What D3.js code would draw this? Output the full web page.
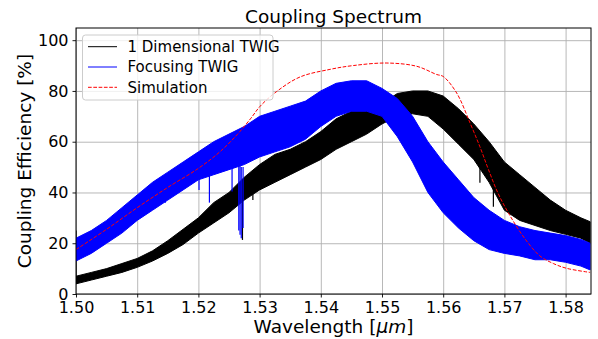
<!DOCTYPE html>
<html>
<head>
<meta charset="utf-8">
<script src="https://cdn.jsdelivr.net/npm/d3@7"></script>
<style>
  body { margin: 0; background: #fff; }
  svg { display: block; font-family: 'DejaVu Sans', sans-serif; }
</style>
</head>
<body>
<svg id="chart" width="598" height="339"></svg>
<script>
const wavelength = [1.5000, 1.5025, 1.5050, 1.5075, 1.5100, 1.5125, 1.5150, 1.5175, 1.5200, 1.5225,
    1.5250, 1.5275, 1.5300, 1.5325, 1.5350, 1.5375, 1.5400, 1.5425, 1.5450, 1.5475,
    1.5500, 1.5525, 1.5550, 1.5575, 1.5600, 1.5625, 1.5650, 1.5675, 1.5700, 1.5725,
    1.5750, 1.5775, 1.5800, 1.5825, 1.5840];
const oneDimLow = [4, 5.5, 7, 8.5, 10.5, 13, 16, 19.5, 24, 28,
    32, 37, 41, 44, 47, 50, 53, 57, 60, 63,
    67, 70, 71, 70, 65, 59, 53, 44, 33, 29,
    27, 25, 23.5, 22, 20];
const oneDimHigh = [7, 8.5, 10, 12, 14, 17, 21, 25.5, 30, 36,
    40, 46, 51, 55, 57, 60, 64, 69, 72, 75,
    75, 79, 80, 80, 78, 73, 67, 60, 52, 47,
    42, 37, 33, 30, 28.5];
const focusingLow = [13, 16, 20, 24, 29, 33, 37, 41, 45, 47,
    49, 51, 54, 56, 58, 61, 66, 70, 72, 72,
    70, 62, 52, 40, 32, 26, 21, 17.5, 16, 15,
    13.5, 13.5, 12.5, 11, 9.5];
const focusingHigh = [22, 25, 29, 34, 39, 44, 48, 52, 56, 60,
    63, 66, 70, 72, 74, 76, 80, 83, 84, 84,
    81, 77, 70, 60, 52, 45, 38, 33, 29, 26.5,
    25, 24, 23, 21.5, 20];

// Single sharp excursions: [wavelength, from, to]
const oneDimSpikes = [[1.5000, 4, 25], [1.5272, 37, 21.3], [1.5289, 41, 37], [1.5660, 55, 43.8], [1.5682, 42, 34.4]];
const focusingSpikes = [[1.5201, 46, 41], [1.5218, 47, 36], [1.5255, 50, 40.4], [1.5146, 38, 36],
    [1.5266, 52, 25], [1.5268, 52, 23.3], [1.5270, 50, 22], [1.5273, 50, 26]];

// Simulation curve
const simWavelength = [1.5000, 1.5050, 1.5100, 1.5150, 1.5200, 1.5235, 1.5263, 1.5285, 1.5301, 1.5328,
    1.5366, 1.5415, 1.5453, 1.5508, 1.5557, 1.5589, 1.5600, 1.5622, 1.5644, 1.5660,
    1.5674, 1.5690, 1.5710, 1.5735, 1.5758, 1.5780, 1.5802, 1.5840];
const simEfficiency = [17.5, 25.5, 34, 42, 49.5, 56, 62.7, 69, 74, 79.8,
    85.5, 88.5, 90, 91, 89.7, 86.5, 85.7, 79.2, 67.3, 58,
    49, 39.5, 30.5, 21.3, 15, 12, 10.1, 8.5];

const xTicks = [1.50, 1.51, 1.52, 1.53, 1.54, 1.55, 1.56, 1.57, 1.58];
const yTicks = [0, 20, 40, 60, 80, 100];
const seriesNames = ['1 Dimensional TWIG', 'Focusing TWIG', 'Simulation'];

const width = 598, height = 339;
const margin = { top: 28, right: 7, bottom: 45, left: 76 };
const innerWidth = width - margin.left - margin.right;
const innerHeight = height - margin.top - margin.bottom;

const svg = d3.select('#chart');
const g = svg.append('g').attr('transform', `translate(${margin.left},${margin.top})`);

const x = d3.scaleLinear().domain([1.5, 1.58415]).range([0, innerWidth]);
const y = d3.scaleLinear().domain([0, 104.8]).range([innerHeight, 0]);

g.append('clipPath').attr('id', 'plot-clip')
    .append('rect').attr('width', innerWidth).attr('height', innerHeight);

// Grid
g.append('g')
    .attr('transform', `translate(0,${innerHeight})`)
    .call(d3.axisBottom(x).tickValues(xTicks).tickSize(-innerHeight).tickFormat(''))
    .call(s => s.select('.domain').remove())
    .selectAll('line').attr('stroke', '#b0b0b0').attr('stroke-width', 0.9);
g.append('g')
    .call(d3.axisLeft(y).tickValues(yTicks).tickSize(-innerWidth).tickFormat(''))
    .call(s => s.select('.domain').remove())
    .selectAll('line').attr('stroke', '#b0b0b0').attr('stroke-width', 0.9);

const plot = g.append('g').attr('clip-path', 'url(#plot-clip)');

function drawBand(low, high, spikes, color) {
    const rows = wavelength.map((w, i) => ({ w, lo: low[i], hi: high[i] }));
    const band = d3.area()
        .x(d => x(d.w))
        .y0(d => y(d.lo))
        .y1(d => y(d.hi));
    plot.append('path')
        .datum(rows)
        .attr('fill', color)
        .attr('stroke', color)
        .attr('stroke-width', 1)
        .attr('d', band);
    plot.selectAll(null)
        .data(spikes)
        .join('line')
        .attr('x1', d => x(d[0]))
        .attr('x2', d => x(d[0]))
        .attr('y1', d => y(d[1]))
        .attr('y2', d => y(d[2]))
        .attr('stroke', color)
        .attr('stroke-width', 1.2);
}

drawBand(oneDimLow, oneDimHigh, oneDimSpikes, '#000000');
drawBand(focusingLow, focusingHigh, focusingSpikes, '#0000ff');

const simLine = d3.line()
    .x((d, i) => x(simWavelength[i]))
    .y(d => y(d))
    .curve(d3.curveCatmullRom.alpha(0.5));
plot.append('path')
    .datum(simEfficiency)
    .attr('fill', 'none')
    .attr('stroke', '#ff0000')
    .attr('stroke-width', 1)
    .attr('stroke-dasharray', '3.7,1.6')
    .attr('d', simLine);

// Axes
const xAxis = g.append('g')
    .attr('transform', `translate(0,${innerHeight})`)
    .call(d3.axisBottom(x).tickValues(xTicks).tickFormat(d3.format('.2f')).tickSize(3.5).tickPadding(4));
const yAxis = g.append('g')
    .call(d3.axisLeft(y).tickValues(yTicks).tickSize(3.5).tickPadding(4));
[xAxis, yAxis].forEach(a => {
    a.select('.domain').remove();
    a.selectAll('line').attr('stroke', '#000').attr('stroke-width', 0.9);
    a.selectAll('text').attr('fill', '#000').attr('font-size', '16px')
        .attr('font-family', "'DejaVu Sans', sans-serif");
});

g.append('rect')
    .attr('width', innerWidth).attr('height', innerHeight)
    .attr('fill', 'none').attr('stroke', '#000').attr('stroke-width', 1);

// Labels
svg.append('text')
    .attr('x', margin.left + innerWidth / 2).attr('y', 22.5)
    .attr('text-anchor', 'middle').attr('font-size', '18.5px')
    .text('Coupling Spectrum');

const xLabel = svg.append('text')
    .attr('x', margin.left + innerWidth / 2).attr('y', 333)
    .attr('text-anchor', 'middle').attr('font-size', '18.5px');
xLabel.append('tspan').text('Wavelength [');
xLabel.append('tspan').attr('font-style', 'italic').text('μm');
xLabel.append('tspan').text(']');

svg.append('text')
    .attr('transform', `translate(31,${margin.top + innerHeight / 2}) rotate(-90)`)
    .attr('text-anchor', 'middle').attr('font-size', '18.5px')
    .text('Coupling Efficiency [%]');

// Legend
const legend = g.append('g').attr('transform', 'translate(6.5,7)');
legend.append('rect')
    .attr('width', 190.5).attr('height', 65).attr('rx', 3)
    .attr('fill', '#fff').attr('fill-opacity', 0.8)
    .attr('stroke', '#cccccc').attr('stroke-width', 1);
const legendColors = ['#000000', '#0000ff', '#ff0000'];
const legendDash = [null, null, '3.7,1.6'];
const item = legend.selectAll('.item')
    .data(seriesNames)
    .join('g')
    .attr('class', 'item')
    .attr('transform', (d, i) => `translate(0,${11.7 + i * 20.3})`);
item.append('line')
    .attr('x1', 5.5).attr('x2', 34.5)
    .attr('stroke', (d, i) => legendColors[i])
    .attr('stroke-width', 1)
    .attr('stroke-dasharray', (d, i) => legendDash[i]);
item.append('text')
    .attr('x', 45).attr('dy', '0.35em')
    .attr('font-size', '15px')
    .text(d => d);
</script>
</body>
</html>
